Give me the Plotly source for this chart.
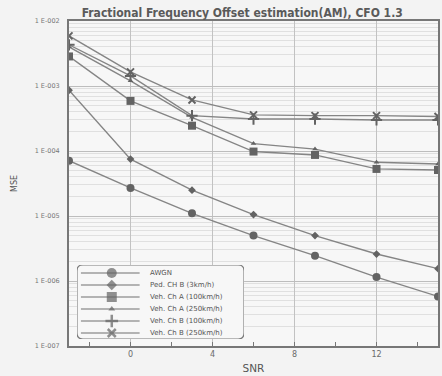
import plotly.graph_objects as go

snr = [-3, 0, 3, 6, 9, 12, 15]
awgn = [7.1e-5, 2.7e-5, 1.1e-5, 5.0e-6, 2.45e-6, 1.15e-6, 5.8e-7]
ped_b_3 = [8.6e-4, 7.5e-5, 2.5e-5, 1.05e-5, 5.0e-6, 2.6e-6, 1.55e-6]
veh_a_100 = [2.85e-3, 5.9e-4, 2.45e-4, 9.8e-5, 8.7e-5, 5.3e-5, 5.1e-5]
veh_a_250 = [4.0e-3, 1.2e-3, 3.3e-4, 1.3e-4, 1.07e-4, 6.7e-5, 6.3e-5]
veh_b_100 = [4.3e-3, 1.43e-3, 3.5e-4, 3.1e-4, 3.1e-4, 3.0e-4, 3.0e-4]
veh_b_250 = [5.9e-3, 1.65e-3, 6.1e-4, 3.6e-4, 3.5e-4, 3.5e-4, 3.4e-4]

names = ["AWGN", "Ped. CH B (3km/h)", "Veh. Ch A (100km/h)",
         "Veh. Ch A (250km/h)", "Veh. Ch B (100km/h)", "Veh. Ch B (250km/h)"]
series = [awgn, ped_b_3, veh_a_100, veh_a_250, veh_b_100, veh_b_250]
symbols = ["circle", "diamond", "square", "triangle-up", "cross-thin", "x-thin"]
sizes = [8, 6, 8, 5, 8, 7]
legend_sizes = [10, 8, 10, 6, 9, 8]

ytick_vals = [1e-7, 1e-6, 1e-5, 1e-4, 1e-3, 1e-2]
ytick_text = ["1 E-007", "1 E-006", "1 E-005", "1 E-004", "1 E-003", "1 E-002"]
xtick_vals = [0, 4, 8, 12]
xtick_text = ["0", "4", "8", "12"]

line_col = "#858585"
mark_col = "#636363"

fig = go.Figure()
for name, ys, sym, sz in zip(names, series, symbols, sizes):
    thin = "thin" in sym
    fig.add_trace(go.Scatter(
        x=snr, y=ys, name=name, mode="lines+markers", showlegend=False,
        line=dict(color=line_col, width=1.4),
        marker=dict(symbol=sym, size=sz, color=mark_col,
                    line=dict(color=mark_col, width=2 if thin else 0)),
        xaxis="x", yaxis="y",
    ))

# custom compact legend drawn on an auxiliary axis (units ~ pixels)
LW, LH = 168, 74
row_h = 12
fig.add_shape(
    type="path", xref="x2", yref="y2", layer="below",
    path=(f"M 6,0 L {LW-6},0 Q {LW},0 {LW},6 L {LW},{LH-6} Q {LW},{LH} {LW-6},{LH} "
          f"L 6,{LH} Q 0,{LH} 0,{LH-6} L 0,6 Q 0,0 6,0 Z"),
    line=dict(color="#7a7a7a", width=1.2), fillcolor="#f7f7f7",
)
for i, (name, sym, sz) in enumerate(zip(names, symbols, legend_sizes)):
    yy = LH - 8 - i * row_h
    thin = "thin" in sym
    fig.add_trace(go.Scatter(
        x=[4, 35, 63], y=[yy, yy, yy], mode="lines+markers", showlegend=False,
        hoverinfo="skip",
        line=dict(color="#707070", width=1.2),
        marker=dict(symbol=sym, size=[0, sz, 0], color=mark_col,
                    line=dict(color=mark_col, width=2.5 if thin else 0)),
        xaxis="x2", yaxis="y2",
    ))
    fig.add_annotation(
        x=71, y=yy, xref="x2", yref="y2", text=name, showarrow=False,
        xanchor="left", yanchor="middle",
        font=dict(size=7, color="#555555", family="DejaVu Sans, sans-serif"),
    )

minor_vals = [m * 10.0 ** e for e in range(-7, -2) for m in range(2, 10)]

fig.update_layout(
    width=442, height=376,
    margin=dict(l=69, r=2, t=21, b=30),
    paper_bgcolor="#f3f3f3", plot_bgcolor="#f7f7f7",
    font=dict(family="DejaVu Sans, Verdana, sans-serif", color="#555555", size=8),
    title=dict(text="<b>Fractional Frequency Offset estimation(AM), CFO 1.3</b>",
               x=0.548, xanchor="center", y=0.965, yanchor="middle",
               font=dict(size=12, color="#5a5a5a", family="DejaVu Sans Condensed, DejaVu Sans, sans-serif")),
    showlegend=False,
    xaxis2=dict(domain=[(77 - 69) / 371, (245 - 69) / 371], range=[0, LW],
                anchor="y2", visible=False, fixedrange=True),
    yaxis2=dict(domain=[(346 - 339) / 325, (346 - 265) / 325], range=[0, LH],
                anchor="x2", visible=False, fixedrange=True),
)
fig.update_layout(
    xaxis=dict(
        range=[-3, 15], tickvals=xtick_vals, ticktext=xtick_text, showgrid=True,
        gridcolor="#c2c2c2", gridwidth=1, zeroline=False, showline=True,
        linecolor="#777777", linewidth=1.5, mirror=True, ticks="",
        tickfont=dict(size=8, color="#6a6a6a"),
        minor=dict(dtick=2, tick0=0, ticks="inside", ticklen=4, tickcolor="#777777",
                   showgrid=False),
        title=dict(text="SNR", font=dict(size=10.5, color="#555555"), standoff=6),
    ),
    yaxis=dict(
        type="log", range=[-7, -2], tickvals=ytick_vals, ticktext=ytick_text,
        showgrid=True, gridcolor="#bdbdbd", gridwidth=1, zeroline=False,
        showline=True, linecolor="#777777", linewidth=2, mirror=True, ticks="",
        tickfont=dict(size=6.5, color="#777777"), ticklabelstandoff=6,
        minor=dict(tickmode="array", tickvals=minor_vals, showgrid=True,
                   gridcolor="#e0e0e0", gridwidth=1, ticks=""),
        title=dict(text="MSE", font=dict(size=8, color="#555555"), standoff=16),
    ),
)
fig.write_html("out.html")
